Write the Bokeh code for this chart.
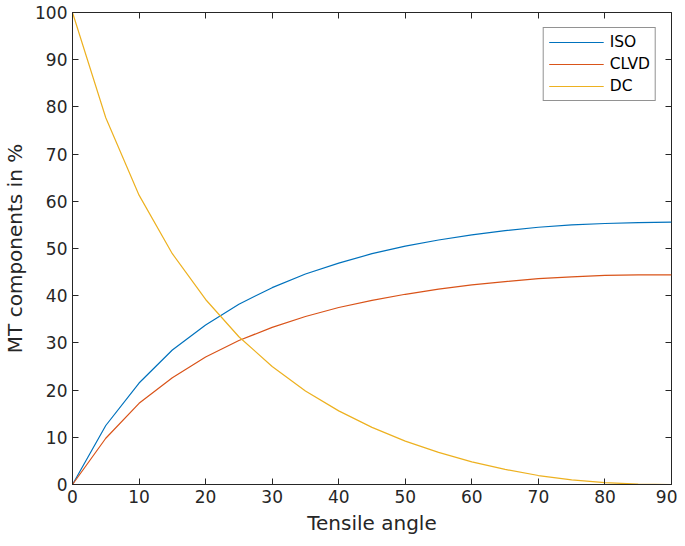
from bokeh.plotting import figure
from bokeh.models import LinearAxis, Range1d, FixedTicker, Legend, LegendItem, CustomJSTickFormatter
from bokeh.embed import file_html
from bokeh.resources import INLINE

angle = [0, 5, 10, 15, 20, 25, 30, 35, 40, 45, 50, 55, 60, 65, 70, 75, 80, 85, 90]
iso = [0, 12.5, 21.5, 28.5, 33.8, 38.2, 41.7, 44.6, 46.9, 48.9, 50.5, 51.8, 52.9, 53.8, 54.5, 55.0, 55.3, 55.5, 55.6]
clvd = [0, 9.8, 17.2, 22.6, 27.0, 30.5, 33.3, 35.6, 37.5, 39.0, 40.3, 41.4, 42.3, 43.0, 43.6, 44.0, 44.3, 44.4, 44.4]
dc = [100, 77.7, 61.3, 48.9, 39.2, 31.3, 25.0, 19.8, 15.6, 12.1, 9.2, 6.8, 4.8, 3.2, 1.9, 1.0, 0.4, 0.1, 0.0]
x_ticks = [0, 10, 20, 30, 40, 50, 60, 70, 80, 90]
y_ticks = [0, 10, 20, 30, 40, 50, 60, 70, 80, 90, 100]

FONT = "DejaVu Sans"
AX = "#262626"

p = figure(width=677, height=538, output_backend="svg", toolbar_location=None,
           x_range=Range1d(0, 90), y_range=Range1d(0, 100),
           min_border_left=40, min_border_right=6, min_border_top=12, min_border_bottom=54,
           x_axis_label="Tensile angle", y_axis_label="MT components in %")
p.grid.visible = False
p.outline_line_color = AX
p.outline_line_width = 1
p.background_fill_color = "white"
p.border_fill_color = "white"

for ax, ticks in ((p.xaxis[0], x_ticks), (p.yaxis[0], y_ticks)):
    ax.ticker = FixedTicker(ticks=ticks)
    ax.major_tick_in = 6
    ax.major_tick_out = 0
    ax.minor_tick_line_color = None
    ax.axis_line_color = AX
    ax.major_tick_line_color = AX
    ax.major_label_text_color = AX
    ax.major_label_text_font = FONT
    ax.major_label_text_font_size = "17px"
    ax.axis_label_text_font = FONT
    ax.axis_label_text_font_size = "20px"
    ax.axis_label_text_font_style = "normal"
    ax.axis_label_text_color = AX
    ax.major_label_standoff = 5
    ax.axis_label_standoff = 5

blank = CustomJSTickFormatter(code="return '';")
top = LinearAxis(ticker=FixedTicker(ticks=x_ticks), major_tick_in=6, major_tick_out=0,
                 minor_tick_line_color=None, formatter=blank,
                 axis_line_color=None, major_tick_line_color=AX, major_label_standoff=0)
right = LinearAxis(ticker=FixedTicker(ticks=y_ticks), major_tick_in=6, major_tick_out=0,
                   minor_tick_line_color=None, formatter=blank,
                   axis_line_color=None, major_tick_line_color=AX, major_label_standoff=0)
p.add_layout(top, "above")
p.add_layout(right, "right")

r1 = p.line(angle, iso, line_color="#0072BD", line_width=1.2)
r2 = p.line(angle, clvd, line_color="#D95319", line_width=1.2)
r3 = p.line(angle, dc, line_color="#EDB120", line_width=1.2)

legend = Legend(items=[LegendItem(label="ISO", renderers=[r1]),
                       LegendItem(label="CLVD", renderers=[r2]),
                       LegendItem(label="DC", renderers=[r3])],
                location="top_right")
legend.label_text_font = FONT
legend.label_text_font_size = "15.5px"
legend.label_text_color = "black"
legend.glyph_width = 55
legend.glyph_height = 18
legend.label_height = 18
legend.spacing = 4
legend.padding = 5
legend.margin = 15
legend.label_standoff = 6
legend.border_line_color = AX
legend.border_line_width = 1
legend.background_fill_alpha = 1
p.add_layout(legend, "center")

open("out.html", "w").write(file_html(p, INLINE))
